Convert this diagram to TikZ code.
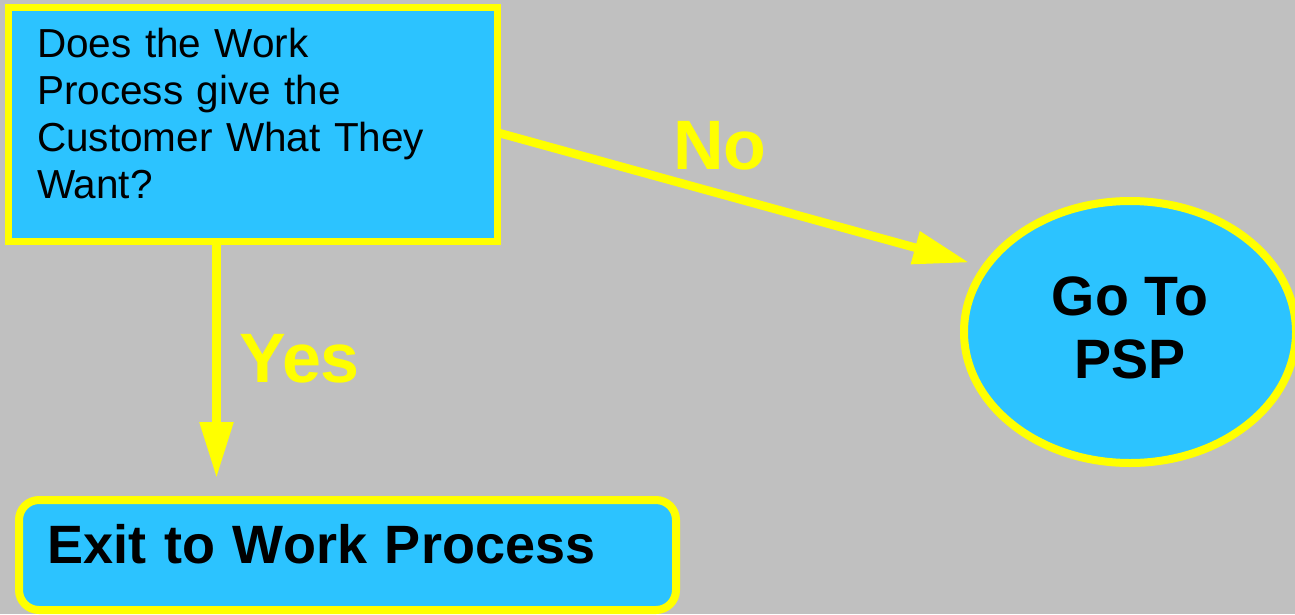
\documentclass[tikz,border=0pt]{standalone}
\usepackage{fontspec}
\setmainfont{Liberation Sans}
\usetikzlibrary{arrows.meta,shapes.geometric}
\definecolor{bggray}{RGB}{192,192,192}
\definecolor{boxblue}{RGB}{44,195,255}
\definecolor{hiyellow}{RGB}{255,255,0}
\begin{document}
\begin{tikzpicture}[x=1pt,y=-1pt,
  bluebox/.style={draw=hiyellow, fill=boxblue, inner sep=0pt, text=black},
  conn/.style={draw=hiyellow, line width=8.5pt,
    -{Triangle[length=56pt,width=32pt]}},
  answer/.style={text=hiyellow, inner sep=0pt, anchor=base west,
    font=\bfseries\fontsize{70}{84}\selectfont}]
  % canvas
  \clip (0,0) rectangle (1295,614);
  \fill[bggray] (0,0) rectangle (1295,614);

  % decision box (the zero-width rule lifts the text block above centre)
  \node[bluebox, rectangle, line width=7pt,
        minimum width=488.5pt, minimum height=234pt,
        text width=431.5pt, align=left,
        font=\fontsize{40.5}{47}\selectfont] (q) at (252.75,124)
    {Does the Work\\Process give the\\Customer What They\\Want?\rule[-22pt]{0pt}{22pt}};

  % outcome: go to PSP
  \node[bluebox, ellipse, line width=8pt,
        minimum width=332pt, minimum height=262pt, align=center,
        font=\bfseries\fontsize{55.5}{63}\selectfont] (psp) at (1130,332)
    {Go To\\PSP\rule[-8pt]{0pt}{8pt}};

  % outcome: exit
  \node[bluebox, rectangle, rounded corners=20pt, line width=8pt,
        minimum width=657pt, minimum height=110pt,
        text width=601pt, align=left, text height=38pt, text depth=22pt,
        font=\bfseries\fontsize{54}{63}\selectfont] (exit) at (347.5,555)
    {Exit to Work Process};

  % connectors
  \draw[conn, shorten >=13pt] ([yshift=-8pt,xshift=-5pt]q.east) -- (psp.156);
  \draw[conn, shorten >=18pt] ([xshift=-36.25pt]q.south)
    -- ([xshift=-36.25pt]q.south |- exit.north);

  % answer labels
  \node[answer] (no) at (673,169) {No};
  \node[answer] (yes) at (239,382) {Yes};
\end{tikzpicture}
\end{document}
